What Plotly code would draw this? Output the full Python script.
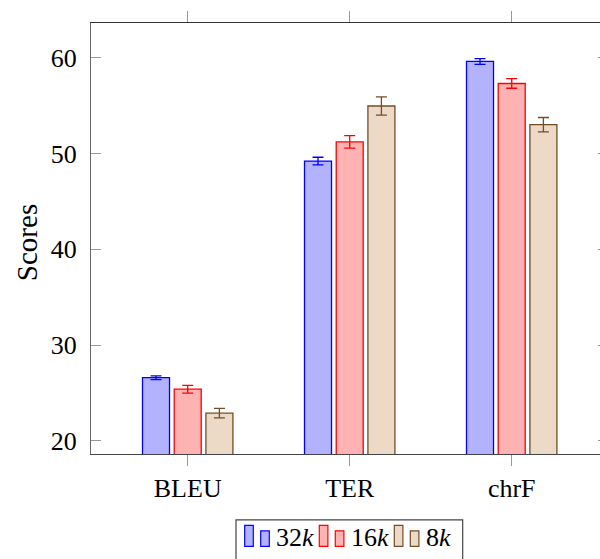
import plotly.graph_objects as go

categories = ["BLEU", "TER", "chrF"]
series_names = ["32<i>k</i>", "16<i>k</i>", "8<i>k</i>"]
vals_32k = [26.6, 49.2, 59.6]
err_32k = [0.2, 0.4, 0.3]
vals_16k = [25.4, 51.2, 57.3]
err_16k = [0.4, 0.65, 0.5]
vals_8k = [22.9, 54.95, 53.0]
err_8k = [0.5, 0.95, 0.75]
y_ticks = [20, 30, 40, 50, 60]

W, H = 600, 559
L, R, T, B = 91, 600, 23, 453.7
FONT = "'Liberation Serif', 'DejaVu Serif', serif"

edges = ["rgb(0,0,255)", "rgb(255,0,0)", "rgb(115,77,38)"]
fills = ["rgb(178,178,255)", "rgb(255,178,178)", "rgb(236,217,198)"]
series = [(vals_32k, err_32k), (vals_16k, err_16k), (vals_8k, err_8k)]

xpos = list(range(len(categories)))
fig = go.Figure()
for (v, e), ec, fc in zip(series, edges, fills):
    fig.add_trace(go.Bar(
        x=xpos, y=v,
        marker=dict(color=fc, line=dict(color=ec, width=1.3)),
        error_y=dict(type="data", array=e, visible=True, color=ec, thickness=1.3, width=5.5),
        showlegend=False,
    ))
# invisible trace for secondary axes
fig.add_trace(go.Scatter(x=[0], y=[40], xaxis="x2", yaxis="y2", mode="markers",
                         marker=dict(opacity=0), showlegend=False, hoverinfo="skip"))

xr = [-0.597, 2.545]
yr = [18.64, 63.61]
fig.update_layout(
    width=W, height=H,
    margin=dict(l=L, r=W - R, t=T, b=H - B, pad=0),
    paper_bgcolor="white", plot_bgcolor="white",
    barmode="group", bargap=0.413, bargroupgap=0.148,
    font=dict(family=FONT, size=26, color="black"),
    xaxis=dict(range=xr, tickvals=xpos, ticktext=categories, ticks="outside", ticklen=11,
               tickcolor="#999", tickwidth=1, showline=True, linecolor="#444", linewidth=1.2,
               showgrid=False, zeroline=False, tickfont=dict(family=FONT, size=26)),
    xaxis2=dict(range=xr, overlaying="x", side="top", anchor="y", tickvals=xpos,
                ticks="outside", ticklen=11, tickcolor="#999", tickwidth=1,
                showticklabels=False, showline=True, linecolor="#333", linewidth=1.2,
                showgrid=False, zeroline=False),
    yaxis=dict(range=yr, tickvals=y_ticks, ticks="inside", ticklen=10, tickcolor="#999",
               tickwidth=1, showline=True, linecolor="#666", linewidth=1.2, showgrid=False,
               zeroline=False, ticklabelstandoff=8, tickfont=dict(family=FONT, size=26)),
    yaxis2=dict(range=yr, overlaying="y", side="right", anchor="x", tickvals=y_ticks,
                ticks="inside", ticklen=2, tickcolor="#999", tickwidth=1,
                showticklabels=False, showline=False, showgrid=False, zeroline=False),
)

def px(x):
    return (x - L) / (R - L)

def py(y):
    return (B - y) / (B - T)

# y axis title
fig.add_annotation(text="Scores", x=px(27), y=py(243), xref="paper", yref="paper",
                   textangle=-90, showarrow=False, xanchor="center", yanchor="middle",
                   font=dict(family=FONT, size=29, color="black"))

# legend box
fig.add_shape(type="rect", xref="paper", yref="paper", x0=px(236), x1=px(462.7),
              y0=py(565), y1=py(519.5), line=dict(color="#444", width=1.2),
              fillcolor="white", layer="above")
legend_starts = [244.7, 319.3, 394.3]
for i, (name, ec, fc) in enumerate(zip(series_names, edges, fills)):
    x0 = legend_starts[i]
    fig.add_shape(type="rect", xref="paper", yref="paper", x0=px(x0), x1=px(x0 + 8.6),
                  y0=py(546), y1=py(525), line=dict(color=ec, width=1.2), fillcolor=fc,
                  layer="above")
    fig.add_shape(type="rect", xref="paper", yref="paper", x0=px(x0 + 16), x1=px(x0 + 24.6),
                  y0=py(546), y1=py(530.5), line=dict(color=ec, width=1.2), fillcolor=fc,
                  layer="above")
    fig.add_annotation(text=name, x=px(x0 + 29.5), y=py(537), xref="paper", yref="paper",
                       showarrow=False, xanchor="left", yanchor="middle",
                       font=dict(family=FONT, size=26, color="black"))

fig.write_html("out.html")
